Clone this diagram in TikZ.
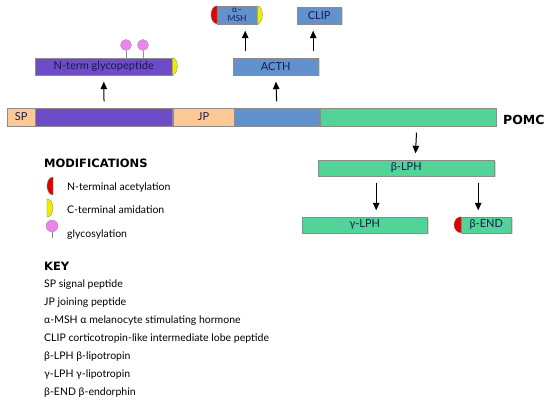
\documentclass[tikz,border=0pt]{standalone}
\usepackage{fontspec}
\setmainfont{Lato}
\newfontfamily\headfont{DejaVu Sans}
\usetikzlibrary{arrows.meta,shadows,calc}
\definecolor{peach}{RGB}{252,200,150}
\definecolor{purp}{RGB}{110,76,200}
\definecolor{blu}{RGB}{98,146,206}
\definecolor{grn}{RGB}{82,212,152}
\definecolor{capred}{RGB}{225,0,0}
\definecolor{capyel}{RGB}{240,238,0}
\definecolor{glypink}{RGB}{238,130,238}
\definecolor{navy}{RGB}{25,25,80}
\tikzset{
  seg/.style={draw=black!45, line width=0.4pt, inner sep=0pt, minimum height=18pt,
    anchor=west, font=\fontsize{11}{12}\selectfont, text=navy,
    drop shadow={shadow xshift=1.5pt, shadow yshift=-1.5pt, opacity=0.3}},
  arr/.style={line width=1pt, -{Triangle[length=7.5pt,width=6.5pt]}, shorten <=6.5pt, shorten >=6.5pt},
  capr/.style={fill=capred, draw=black!50, line width=0.3pt},
  capy/.style={fill=capyel, draw=black!50, line width=0.3pt},
  glyco/.style={circle, draw=black!40, line width=0.4pt, fill=glypink, minimum size=11pt, inner sep=0pt},
  keytxt/.style={anchor=base west, inner sep=0pt, font=\fontsize{10.5}{12}\selectfont},
  head/.style={anchor=base west, inner sep=0pt, font=\headfont\bfseries\fontsize{11.5}{13}\selectfont}
}
\begin{document}
\begin{tikzpicture}[x=1pt,y=-1pt]
\fill[white] (0,0) rectangle (559,403);
\useasboundingbox (0,0) rectangle (559,403);
% POMC bar
\node[seg, fill=peach, minimum width=28pt] (sp) at (7,117) {SP};
\node[seg, fill=purp, minimum width=137pt] (pur) at (sp.east) {};
\node[seg, fill=peach, minimum width=61pt] (jp) at (pur.east) {JP};
\node[seg, fill=blu, minimum width=85pt] (blue) at (jp.east) {};
\node[seg, fill=grn, minimum width=176pt] (grn) at (blue.east) {};
\node[anchor=west, inner sep=0pt, font=\headfont\bfseries\fontsize{12.5}{14}\selectfont] (pomc) at (503,120) {POMC};
% products
\node[seg, fill=purp, minimum width=137pt, minimum height=17pt] (nterm) at (35,66.5) {N-term glycopeptide};
\node[seg, fill=blu, minimum width=85pt, minimum height=17pt] (acth) at (233,66.5) {ACTH};
\node[seg, fill=blu, minimum width=40pt, minimum height=18pt, align=center,
  font=\fontsize{8.5}{8.5}\selectfont] (msh) at (217,15) {α–\\MSH};
\node[seg, fill=blu, minimum width=44pt, minimum height=17pt] (clip) at (297,15.5) {CLIP};
\node[seg, fill=grn, minimum width=176pt, minimum height=16pt] (blph) at (318,168) {β-LPH};
\node[seg, fill=grn, minimum width=125pt, minimum height=16pt] (glph) at (302,225) {γ-LPH};
\node[seg, fill=grn, minimum width=50pt, minimum height=16pt] (bend) at (461,225) {β-END};
% caps
\draw[capy] (nterm.north east) arc[start angle=90, end angle=-90, x radius=5pt, y radius=8.5pt] -- cycle;
\draw[capr] (msh.north west) arc[start angle=90, end angle=270, x radius=6pt, y radius=9pt] -- cycle;
\draw[capy] (msh.north east) arc[start angle=90, end angle=-90, x radius=5pt, y radius=9pt] -- cycle;
\draw[capr] (bend.north west) arc[start angle=90, end angle=270, x radius=7pt, y radius=8pt] -- cycle;
% glycosylation
\node[glyco] (g1) at (126,45) {};
\node[glyco] (g2) at (143,45) {};
\draw[black!45, line width=0.6pt] (g1.south) -- (g1.south |- nterm.north);
\draw[black!45, line width=0.6pt] (g2.south) -- (g2.south |- nterm.north);
% arrows
\draw[arr] (pur.north) -- (nterm.south);
\draw[arr] (blue.north) -- (acth.south);
\draw[arr] ($(msh.south |- acth.north)+(8,0)$) -- ($(msh.south)+(8,0)$);
\draw[arr] ($(clip.south |- acth.north)+(-6,0)$) -- ($(clip.south)+(-6,0)$);
\draw[arr] ($(grn.south)+(9,0)$) -- ($(blph.north)+(9,0)$);
\draw[arr] ($(glph.north |- blph.south)+(11.5,0)$) -- ($(glph.north)+(11.5,0)$);
\draw[arr] ($(bend.north |- blph.south)+(-8,0)$) -- ($(bend.north)+(-8,0)$);
% modifications legend
\node[head] (modh) at (44,168) {MODIFICATIONS};
\draw[capr] (53,177) arc[start angle=90, end angle=270, x radius=6pt, y radius=9pt] -- cycle;
\draw[capy] (47,199) arc[start angle=90, end angle=-90, x radius=6pt, y radius=9pt] -- cycle;
\node[glyco, minimum size=12pt] (lg) at (52,226) {};
\draw[black!50, line width=0.6pt] (lg.south) -- ++(0,6);
\node[keytxt] (m1) at (67,191) {N-terminal acetylation};
\node[keytxt] (m2) at (67,214) {C-terminal amidation};
\node[keytxt] (m3) at (67,237) {glycosylation};
% key
\node[head] (keyh) at (44,270) {KEY};
\node[keytxt] (k1) at (44,287) {SP signal peptide};
\node[keytxt] (k2) at (44,305) {JP joining peptide};
\node[keytxt] (k3) at (44,323) {α-MSH α melanocyte stimulating hormone};
\node[keytxt] (k4) at (44,341) {CLIP corticotropin-like intermediate lobe peptide};
\node[keytxt] (k5) at (44,359) {β-LPH β-lipotropin};
\node[keytxt] (k6) at (44,377) {γ-LPH γ-lipotropin};
\node[keytxt] (k7) at (44,395) {β-END β-endorphin};
\end{tikzpicture}
\end{document}
